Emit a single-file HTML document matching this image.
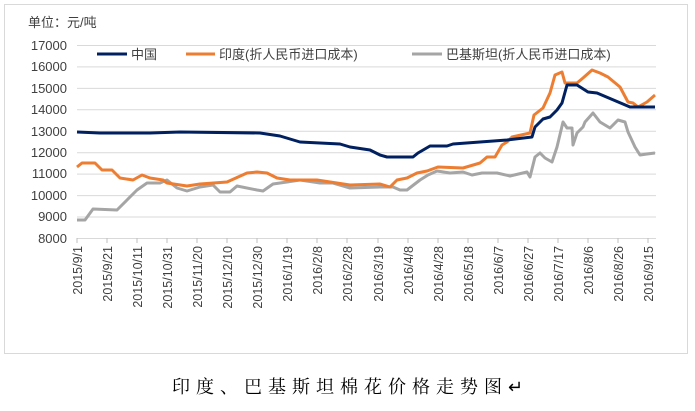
<!DOCTYPE html>
<html><head><meta charset="utf-8"><style>
body{margin:0;background:#fff;}
svg text{font-family:"Liberation Sans","Noto Sans CJK SC",sans-serif;}
</style></head><body>
<svg width="695" height="406" viewBox="0 0 695 406" xmlns="http://www.w3.org/2000/svg">
<rect x="4.5" y="4.5" width="683" height="349" fill="#fff" stroke="#d9d9d9"/>
<text x="28" y="27" font-size="13" fill="#404040">单位：元/吨</text>
<g stroke="#d9d9d9" stroke-width="1">
<line x1="77" x2="656" y1="45.5" y2="45.5"/><line x1="77" x2="656" y1="66.9" y2="66.9"/>
<line x1="77" x2="656" y1="88.4" y2="88.4"/><line x1="77" x2="656" y1="109.8" y2="109.8"/>
<line x1="77" x2="656" y1="131.3" y2="131.3"/><line x1="77" x2="656" y1="152.7" y2="152.7"/>
<line x1="77" x2="656" y1="174.1" y2="174.1"/><line x1="77" x2="656" y1="195.6" y2="195.6"/>
<line x1="77" x2="656" y1="217" y2="217"/><line x1="77" x2="656" y1="238.5" y2="238.5"/>
</g>
<g font-size="13" fill="#404040" text-anchor="end">
<text x="67" y="50">17000</text><text x="67" y="71">16000</text><text x="67" y="93">15000</text>
<text x="67" y="114">14000</text><text x="67" y="136">13000</text><text x="67" y="157">12000</text>
<text x="67" y="178">11000</text><text x="67" y="200">10000</text><text x="67" y="221">9000</text>
<text x="67" y="243">8000</text>
</g>
<g stroke="#bfbfbf"><line x1="77" x2="77" y1="238" y2="243"/><line x1="107" x2="107" y1="238" y2="243"/><line x1="137" x2="137" y1="238" y2="243"/><line x1="167" x2="167" y1="238" y2="243"/><line x1="197" x2="197" y1="238" y2="243"/><line x1="227" x2="227" y1="238" y2="243"/><line x1="257" x2="257" y1="238" y2="243"/><line x1="287" x2="287" y1="238" y2="243"/><line x1="317" x2="317" y1="238" y2="243"/><line x1="347" x2="347" y1="238" y2="243"/><line x1="378" x2="378" y1="238" y2="243"/><line x1="408" x2="408" y1="238" y2="243"/><line x1="438" x2="438" y1="238" y2="243"/><line x1="468" x2="468" y1="238" y2="243"/><line x1="498" x2="498" y1="238" y2="243"/><line x1="528" x2="528" y1="238" y2="243"/><line x1="558" x2="558" y1="238" y2="243"/><line x1="588" x2="588" y1="238" y2="243"/><line x1="618" x2="618" y1="238" y2="243"/><line x1="648" x2="648" y1="238" y2="243"/></g>
<g font-size="12.5" fill="#404040" text-anchor="end">
<text transform="translate(82,246) rotate(-90)">2015/9/1</text>
<text transform="translate(112,246) rotate(-90)">2015/9/21</text>
<text transform="translate(142,246) rotate(-90)">2015/10/11</text>
<text transform="translate(172,246) rotate(-90)">2015/10/31</text>
<text transform="translate(202,246) rotate(-90)">2015/11/20</text>
<text transform="translate(232,246) rotate(-90)">2015/12/10</text>
<text transform="translate(262,246) rotate(-90)">2015/12/30</text>
<text transform="translate(292,246) rotate(-90)">2016/1/19</text>
<text transform="translate(322,246) rotate(-90)">2016/2/8</text>
<text transform="translate(352,246) rotate(-90)">2016/2/28</text>
<text transform="translate(383,246) rotate(-90)">2016/3/19</text>
<text transform="translate(413,246) rotate(-90)">2016/4/8</text>
<text transform="translate(443,246) rotate(-90)">2016/4/28</text>
<text transform="translate(473,246) rotate(-90)">2016/5/18</text>
<text transform="translate(503,246) rotate(-90)">2016/6/7</text>
<text transform="translate(533,246) rotate(-90)">2016/6/27</text>
<text transform="translate(563,246) rotate(-90)">2016/7/17</text>
<text transform="translate(593,246) rotate(-90)">2016/8/6</text>
<text transform="translate(623,246) rotate(-90)">2016/8/26</text>
<text transform="translate(653,246) rotate(-90)">2016/9/15</text>
</g>
<g fill="none" stroke-width="3" stroke-linejoin="round">
<polyline stroke="#a5a5a5" points="77,220 85,220 93,209 117,210 127,200 137,190 147,183 160,183 167,180 177,188 187,191 200,187 213,185 220,192 230,192 237,186 257,190 263,191 273,184 287,182 300,180 320,183 333,183 350,188 380,187 393,187 400,190 407,190 420,180 428,175 437,171 450,173 463,172 472,175 482,173 497,173 510,176 527,172 530,177 535,157 540,153 545,158 552,162 557,147 563,122 567,128 572,128 573,145 577,133 583,127 585,122 593,113 600,122 610,128 618,120 625,122 628,132 635,147 640,155 647,154 655,153"/>
<polyline stroke="#ed7d31" points="77,167 82,163 95,163 102,170 112,170 120,178 133,180 142,175 150,178 163,180 167,183 187,186 200,184 227,182 247,173 257,172 267,173 277,178 290,180 317,180 350,185 380,184 390,187 397,180 407,178 417,173 427,171 438,167 463,168 480,163 487,157 495,157 502,145 507,142 512,137 530,133 534,115 543,108 550,93 555,75 562,72 565,83 577,83 583,78 592,70 600,73 608,77 620,87 628,102 633,103 638,107 647,102 655,95"/>
<polyline stroke="#002060" points="77,132 100,133 150,133 180,132 260,133 280,136 300,142 340,144 350,147 370,150 380,155 387,157 413,157 418,153 430,146 447,146 453,144 480,142 507,140 532,137 535,127 543,119 550,117 557,110 562,103 567,85 577,85 588,92 597,93 630,107 655,107"/>
</g>
<g font-size="13" fill="#404040">
<line x1="97" x2="127" y1="54" y2="54" stroke="#002060" stroke-width="3"/><text x="131" y="59">中国</text>
<line x1="186" x2="215" y1="54" y2="54" stroke="#ed7d31" stroke-width="3"/><text x="219" y="59">印度(折人民币进口成本)</text>
<line x1="412" x2="442" y1="54" y2="54" stroke="#a5a5a5" stroke-width="3"/><text x="446" y="59">巴基斯坦(折人民币进口成本)</text>
</g>
<text x="172" y="393" font-size="18" fill="#000" style="font-family:'Liberation Serif','Noto Serif CJK SC',serif;letter-spacing:6px">印度、巴基斯坦棉花价格走势图↵</text>
</svg>
</body></html>
